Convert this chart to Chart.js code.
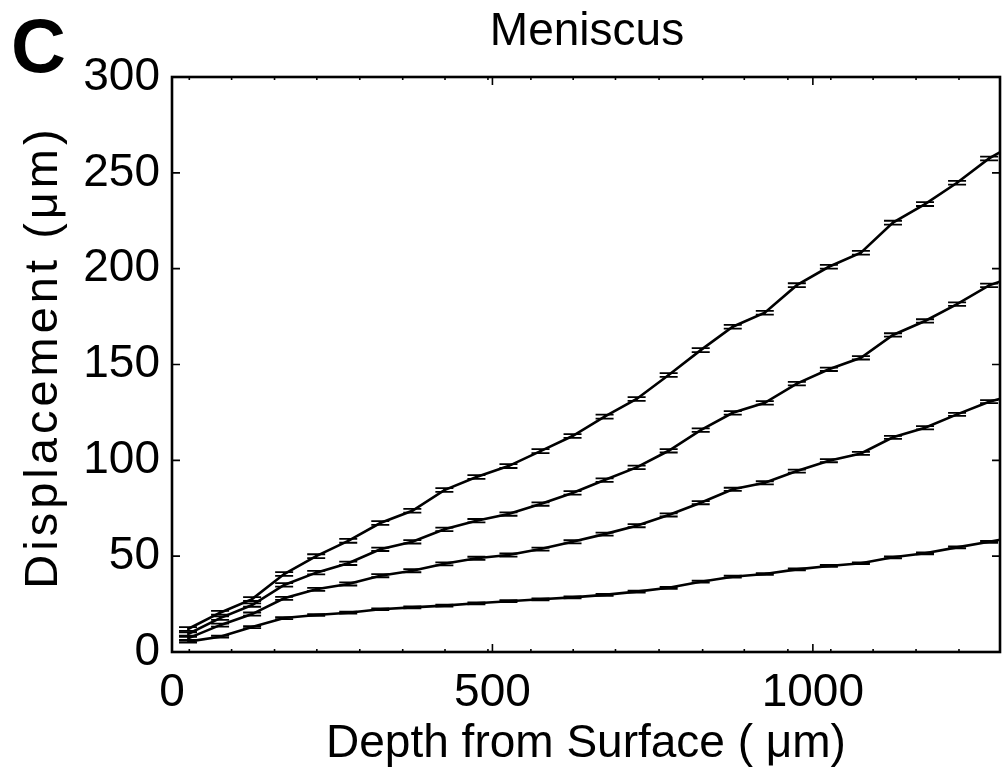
<!DOCTYPE html>
<html>
<head>
<meta charset="utf-8">
<script src="https://cdn.jsdelivr.net/npm/chart.js@4/dist/chart.umd.min.js"></script>
<style>
  html, body { margin: 0; padding: 0; background: #fff; }
  #wrap { width: 1003px; height: 772px; }
</style>
</head>
<body>
<div id="wrap"><canvas id="meniscus"></canvas></div>
<script>
// depth from surface (um), one sample every 50 um; last one lies past the axis limit
const depth = [25, 75, 125, 175, 225, 275, 325, 375, 425, 475, 525, 575, 625, 675,
               725, 775, 825, 875, 925, 975, 1025, 1075, 1125, 1175, 1225, 1275, 1325];

const disp1 = [5.4, 8, 13, 17.7, 19.3, 20.5, 22.3, 23.3, 24.2, 25.4, 26.5, 27.5, 28.5, 29.8,
               31.5, 33.5, 36.7, 39.3, 40.7, 43.1, 44.9, 46.3, 49.4, 51.5, 54.6, 57.5, 60.6];
const disp2 = [7.1, 14, 19.8, 28, 32.7, 35.5, 39.8, 42.4, 46, 48.9, 50.6, 53.7, 57.5, 61.5,
               65.9, 71.5, 77.9, 84.9, 88.3, 94.4, 99.8, 103.6, 112, 117, 124, 130.6, 135];
const disp3 = [9.4, 17.7, 24.5, 35, 41.4, 46.3, 53.6, 57.5, 64, 68.5, 72, 77.2, 83, 89.7,
               96.3, 105, 115.8, 124.8, 130, 140, 147.5, 153.5, 165.4, 172.7, 181.5, 191.3, 197];
const disp4 = [12, 20.5, 27.6, 40.7, 50, 58, 67.3, 73.7, 84.5, 91.3, 97, 104.8, 112.7, 122.8,
               132, 144.5, 157.5, 169.7, 177, 191.4, 201, 208.3, 224, 233.7, 244.8, 257.5, 267];

// standard error per series (roughly constant along depth)
const err1 = 0.5;
const err2 = 0.8;
const err3 = 0.9;
const err4 = 1.0;

const xTicks = [0, 500, 1000];
const xMinorTicks = [27, 93, 160, 226, 293, 360, 426, 493, 560, 626, 692, 760, 828, 893,
                     961, 1028, 1094, 1161, 1228];
const yTicks = [0, 50, 100, 150, 200, 250, 300];

const FONT = "'Liberation Sans', Arial, Helvetica, sans-serif";

function series(vals, err) {
  return {
    data: depth.map((d, i) => ({ x: d, y: vals[i] })),
    err: err,
    borderColor: '#000',
    borderWidth: 2.6,
    pointRadius: 0,
    tension: 0,
    fill: false
  };
}

// error bars, box, inward ticks and the free text
const decor = {
  id: 'decor',
  afterDatasetsDraw(chart) {
    const ctx = chart.ctx;
    const a = chart.chartArea;
    const xs = chart.scales.x, ys = chart.scales.y;
    ctx.save();
    ctx.beginPath();
    ctx.rect(a.left, a.top, a.right - a.left, a.bottom - a.top);
    ctx.clip();
    ctx.strokeStyle = '#000';
    ctx.lineWidth = 1.8;
    chart.data.datasets.forEach(ds => {
      ds.data.forEach(p => {
        const px = xs.getPixelForValue(p.x);
        const y1 = ys.getPixelForValue(p.y - ds.err);
        const y2 = ys.getPixelForValue(p.y + ds.err);
        ctx.beginPath();
        ctx.moveTo(px, y1); ctx.lineTo(px, y2);
        ctx.moveTo(px - 9, y1); ctx.lineTo(px + 9, y1);
        ctx.moveTo(px - 9, y2); ctx.lineTo(px + 9, y2);
        ctx.stroke();
      });
    });
    ctx.restore();

    ctx.save();
    ctx.strokeStyle = '#000';
    ctx.lineWidth = 2.6;
    ctx.strokeRect(a.left, a.top, a.right - a.left, a.bottom - a.top);
    ctx.lineWidth = 1.6;
    ctx.beginPath();
    xTicks.forEach(v => {
      const px = xs.getPixelForValue(v);
      ctx.moveTo(px, a.bottom); ctx.lineTo(px, a.bottom - 8);
      ctx.moveTo(px, a.top); ctx.lineTo(px, a.top + 8);
    });
    xMinorTicks.forEach(v => {
      const px = xs.getPixelForValue(v);
      ctx.moveTo(px, a.bottom); ctx.lineTo(px, a.bottom - 3);
      ctx.moveTo(px, a.top); ctx.lineTo(px, a.top + 3);
    });
    yTicks.forEach(v => {
      const py = ys.getPixelForValue(v);
      ctx.moveTo(a.left, py); ctx.lineTo(a.left + 8, py);
      ctx.moveTo(a.right, py); ctx.lineTo(a.right - 8, py);
    });
    ctx.stroke();

    ctx.fillStyle = '#000';
    ctx.textAlign = 'center';
    ctx.textBaseline = 'alphabetic';
    ctx.font = '46px ' + FONT;
    ctx.fillText('Meniscus', 587, 45);
    ctx.textAlign = 'left';
    ctx.font = 'bold 76px ' + FONT;
    ctx.fillText('C', 11, 72);

    // y axis title, spaced out a little
    ctx.translate(57, 359);
    ctx.rotate(-Math.PI / 2);
    ctx.textAlign = 'center';
    ctx.font = '47px ' + FONT;
    ctx.letterSpacing = '4px';
    ctx.fillText('Displacement (\u03bcm)', 2, 0);
    ctx.restore();
  }
};

new Chart(document.getElementById('meniscus'), {
  type: 'line',
  data: {
    datasets: [series(disp1, err1), series(disp2, err2), series(disp3, err3), series(disp4, err4)]
  },
  options: {
    responsive: true,
    maintainAspectRatio: false,
    animation: false,
    events: [],
    layout: { padding: { top: 77, right: 3, left: 0, bottom: 0 } },
    plugins: { legend: { display: false }, tooltip: { enabled: false } },
    scales: {
      x: {
        type: 'linear',
        min: 0,
        max: 1292,
        afterBuildTicks: s => { s.ticks = xTicks.map(v => ({ value: v })); },
        afterFit: s => { s.height = 120; },
        grid: { display: false, drawTicks: false },
        border: { display: false },
        ticks: {
          color: '#000',
          padding: 14,
          maxRotation: 0,
          font: { family: FONT, size: 46 },
          callback: v => String(v)
        },
        title: {
          display: true,
          text: 'Depth from Surface ( \u03bcm)',
          color: '#000',
          font: { family: FONT, size: 46 },
          padding: { top: 0, bottom: 0 }
        }
      },
      y: {
        min: 0,
        max: 300,
        afterBuildTicks: s => { s.ticks = yTicks.map(v => ({ value: v })); },
        afterFit: s => { s.width = 172; },
        grid: { display: false, drawTicks: false },
        border: { display: false },
        ticks: {
          color: '#000',
          padding: 12,
          font: { family: FONT, size: 46 }
        }
      }
    }
  },
  plugins: [decor]
});
</script>
</body>
</html>
